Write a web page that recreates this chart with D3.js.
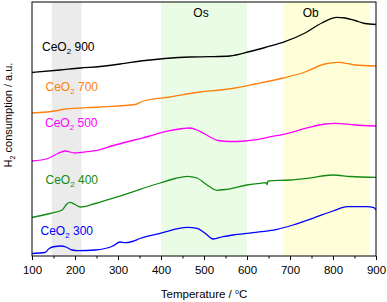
<!DOCTYPE html>
<html>
<head>
<meta charset="utf-8">
<script src="https://cdn.jsdelivr.net/npm/d3@7"></script>
<style>
  body { margin: 0; background: #fff; }
  svg { display: block; font-family: "Liberation Sans", Arial, sans-serif; }
</style>
</head>
<body>
<svg id="chart" width="387" height="302"></svg>
<script>
// TPR traces, temperature (°C) vs H2 consumption (a.u., offset per sample)

const ticksT = [100, 200, 300, 400, 500, 600, 700, 800, 900];

const t900 = [100, 165, 212, 258, 305, 363, 409, 467, 514, 560, 607, 642, 688, 735, 774, 809, 828, 851, 874, 900];
const v900 = [183.5, 186, 188, 189.5, 192, 195.5, 197.5, 199, 199.3, 200, 204.5, 208.5, 214.3, 223, 233, 238.7, 238, 235.5, 232.5, 231.5];

const t700 = [100, 160, 170, 258, 340, 356, 421, 491, 537, 572, 619, 684, 735, 781, 812, 851, 900];
const v700 = [143, 145.5, 146.5, 149, 151.5, 154.5, 159, 164, 166, 168, 172, 178, 184, 192, 193.7, 191, 190];

const t500 = [100, 137, 160, 177, 200, 212, 247, 289, 342, 370, 409, 451, 467, 481, 502, 533, 560, 595, 626, 656, 695, 742, 781, 805, 851, 900];
const v500 = [95, 97.5, 102.5, 105, 103, 103.5, 105.3, 110.5, 116.5, 119.5, 124.3, 127.5, 128, 126.5, 122, 115.5, 114.5, 115, 116.7, 119.3, 122.7, 128.3, 132, 132.7, 131, 130];

const t400 = [100, 142, 170, 181, 188, 200, 212, 247, 300, 351, 398, 433, 461, 484, 507, 530, 553, 600, 630, 644, 647, 649, 700, 740, 800, 840, 900];
const v400 = [38.5, 42.5, 46, 52, 53.7, 51.5, 49, 52.5, 59.3, 66.7, 73, 77.5, 79.7, 78, 71, 65.7, 66.7, 71, 72.7, 73.3, 71.5, 75, 76, 77.7, 81, 79.5, 78.7];

const t300 = [100, 130, 140, 153, 167, 179, 193, 207, 247, 288, 305, 316, 333, 351, 398, 461, 484, 502, 521, 544, 567, 614, 670, 707, 753, 800, 833, 879, 895, 900];
const v300 = [2.5, 3.5, 7.5, 9.5, 10, 9, 6, 5.3, 6, 10, 14, 13.3, 14.5, 17.5, 22.7, 28.7, 27.7, 23, 17, 19.3, 21, 23.3, 26.7, 31, 37.7, 45, 49.3, 49.3, 48.3, 46];

const series = [
  { name: '900', t: t900, v: v900, color: '#000000', lx: 42, ly: 50.5 },
  { name: '700', t: t700, v: v700, color: '#ff7f0e', lx: 45.5, ly: 90.5 },
  { name: '500', t: t500, v: v500, color: '#ff00ff', lx: 45, ly: 126.5 },
  { name: '400', t: t400, v: v400, color: '#138a13', lx: 45.5, ly: 184 },
  { name: '300', t: t300, v: v300, color: '#0000ff', lx: 40.5, ly: 235 }
];

const bands = [
  { from: 146, to: 215, fill: '#ebebeb' },
  { from: 400, to: 600, fill: '#eafce6' },
  { from: 685, to: 885, fill: '#fefed8' }
];

const regionLabels = [
  { text: 'Os', t: 493 },
  { text: 'Ob', t: 748 }
];

const margin = { top: 2, right: 11, bottom: 46, left: 32 };
const width = 387 - margin.left - margin.right,
      height = 302 - margin.top - margin.bottom;

const svg = d3.select('#chart');
const g = svg.append('g').attr('transform', `translate(${margin.left},${margin.top})`);

const x = d3.scaleLinear().domain([100, 900]).range([0, width]);
const y = d3.scaleLinear().domain([0, 254]).range([height, 0]);

// shaded regions
g.selectAll('rect.band').data(bands).enter().append('rect')
  .attr('class', 'band')
  .attr('x', d => x(d.from))
  .attr('width', d => x(d.to) - x(d.from))
  .attr('y', 0)
  .attr('height', height)
  .attr('fill', d => d.fill);

g.selectAll('text.region').data(regionLabels).enter().append('text')
  .attr('class', 'region')
  .attr('x', d => x(d.t))
  .attr('y', 14.5)
  .attr('text-anchor', 'middle')
  .attr('font-size', '12px')
  .text(d => d.text);

// curves
const line = d3.line()
  .x(d => x(d[0]))
  .y(d => y(d[1]))
  .curve(d3.curveMonotoneX);

series.forEach(s => {
  const pts = s.t.map((t, i) => [t, s.v[i]]);
  g.append('path')
    .datum(pts)
    .attr('fill', 'none')
    .attr('stroke', s.color)
    .attr('stroke-width', 1.3)
    .attr('d', line);

  const lab = svg.append('text')
    .attr('x', s.lx)
    .attr('y', s.ly)
    .attr('fill', s.color)
    .attr('font-size', '12px');
  lab.append('tspan').text('CeO');
  lab.append('tspan').attr('font-size', '8px').attr('dy', 3).text('2');
  lab.append('tspan').attr('dy', -3).text(' ' + s.name);
});

// x axis, major and minor ticks
g.append('g')
  .attr('transform', `translate(0,${height})`)
  .call(d3.axisBottom(x).tickValues(d3.range(150, 900, 100)).tickSize(2.5).tickFormat(''))
  .call(a => a.select('.domain').remove());

g.append('g')
  .attr('transform', `translate(0,${height})`)
  .call(d3.axisBottom(x).tickValues(ticksT).tickSize(4).tickPadding(6).tickFormat(d3.format('d')))
  .call(a => a.selectAll('text').attr('font-size', '11.5px').attr('fill', '#000').style('font-family', '"Liberation Sans", Arial, sans-serif'))
  .call(a => a.select('.domain').remove());

// frame
g.append('rect')
  .attr('x', 0).attr('y', 0)
  .attr('width', width).attr('height', height)
  .attr('fill', 'none')
  .attr('stroke', '#000')
  .attr('stroke-width', 1);

// axis titles
const xt = svg.append('text')
  .attr('x', margin.left + width / 2)
  .attr('y', 297.5)
  .attr('text-anchor', 'middle')
  .attr('font-size', '11.5px');
xt.append('tspan').text('Temperature / ');
xt.append('tspan').attr('font-size', '7px').attr('dy', -4).text('o');
xt.append('tspan').attr('dy', 4).text('C');

const yt = svg.append('text')
  .attr('transform', 'translate(12,115) rotate(-90)')
  .attr('text-anchor', 'middle')
  .attr('font-size', '11px');
yt.append('tspan').text('H');
yt.append('tspan').attr('font-size', '7px').attr('dy', 3).text('2');
yt.append('tspan').attr('dy', -3).text(' consumption / a.u.');
</script>
</body>
</html>
